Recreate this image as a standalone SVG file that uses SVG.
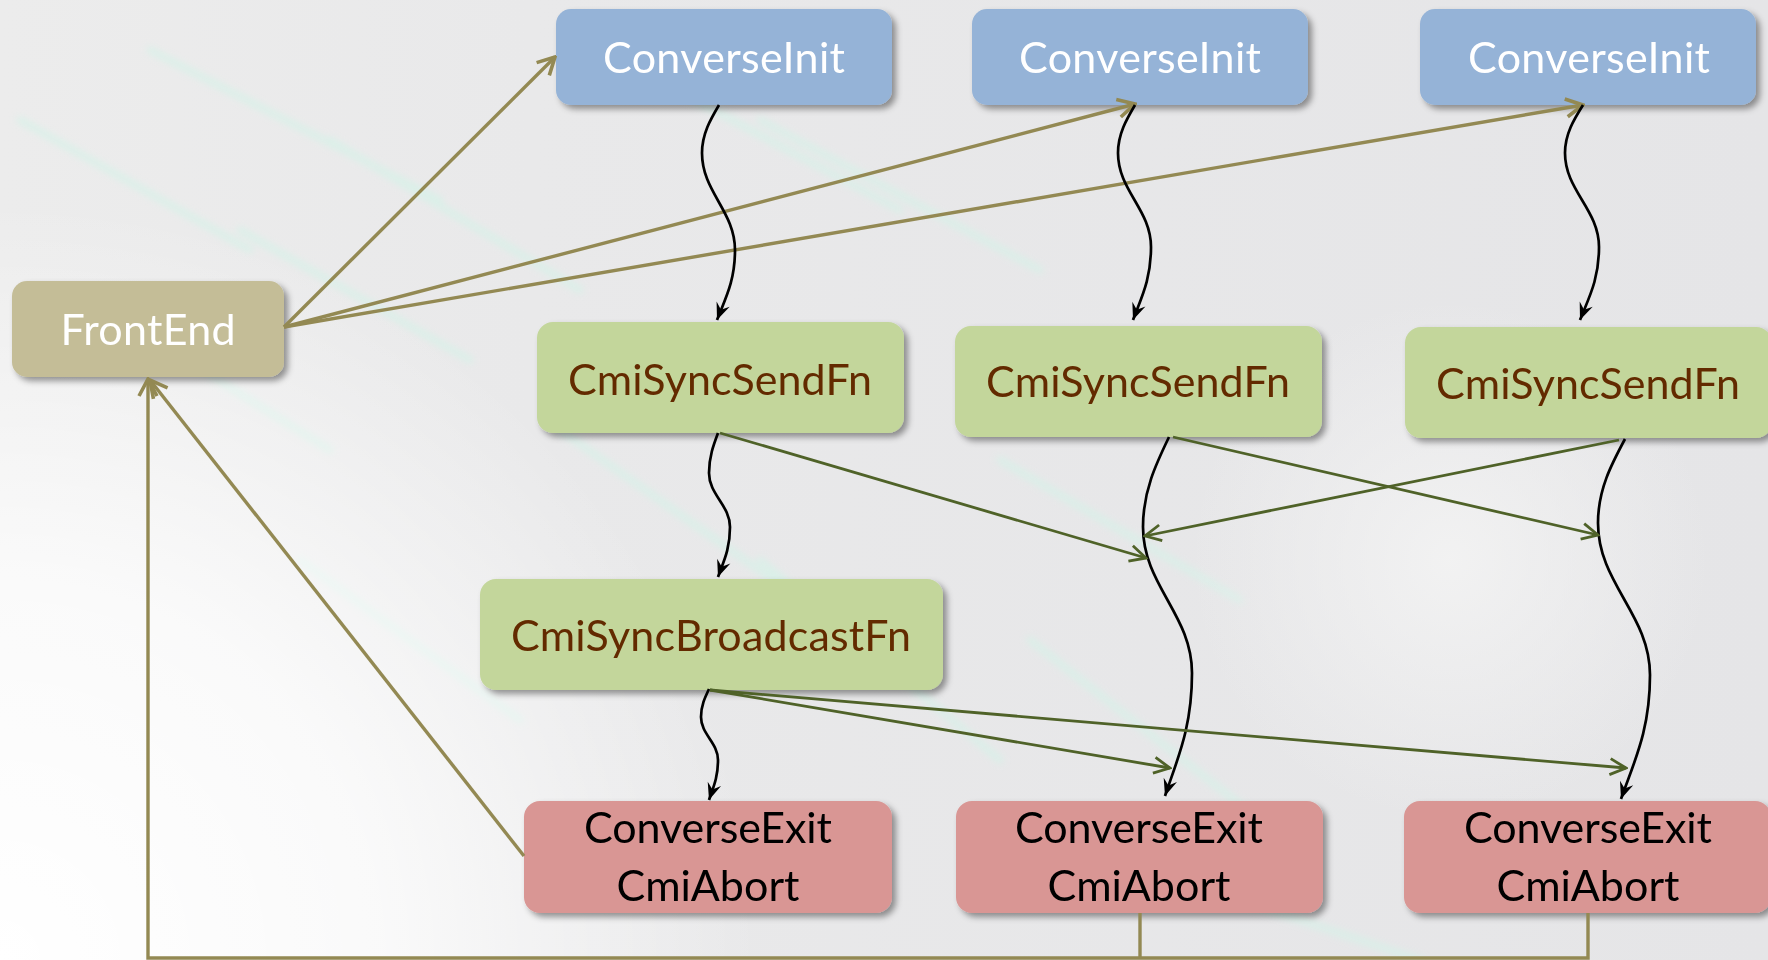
<svg xmlns="http://www.w3.org/2000/svg" width="1768" height="960" viewBox="0 0 1768 960">
  <defs>
    <linearGradient id="bg" x1="0" y1="0" x2="1" y2="0">
      <stop offset="0" stop-color="#ececec"/>
      <stop offset="0.3" stop-color="#e9e9ea"/>
      <stop offset="1" stop-color="#e5e5e7"/>
    </linearGradient>
    <radialGradient id="glow" cx="0" cy="960" r="760" gradientUnits="userSpaceOnUse">
      <stop offset="0" stop-color="#ffffff" stop-opacity="1"/>
      <stop offset="0.5" stop-color="#ffffff" stop-opacity="0.75"/>
      <stop offset="1" stop-color="#ffffff" stop-opacity="0"/>
    </radialGradient>
    <radialGradient id="glow2" cx="1450" cy="560" r="260" gradientUnits="userSpaceOnUse">
      <stop offset="0" stop-color="#f3f3f3" stop-opacity="0.9"/>
      <stop offset="1" stop-color="#f3f3f3" stop-opacity="0"/>
    </radialGradient>
    <filter id="blur" x="-20%" y="-20%" width="140%" height="140%">
      <feGaussianBlur stdDeviation="3.5"/>
    </filter>
    <filter id="shadow" x="-10%" y="-10%" width="125%" height="135%">
      <feDropShadow dx="4" dy="4" stdDeviation="3" flood-color="#000" flood-opacity="0.4"/>
    </filter>
    <marker id="ah-black" markerUnits="userSpaceOnUse" markerWidth="20" markerHeight="18" viewBox="-18 -9 20 18" refX="0" refY="0" orient="auto">
      <path d="M0,0 L-17,-7 L-11,0 L-17,7 Z" fill="#000"/>
    </marker>
    <marker id="ah-green" markerUnits="userSpaceOnUse" markerWidth="22" markerHeight="20" viewBox="-20 -10 22 20" refX="0" refY="0" orient="auto">
      <path d="M-16,-8 L0,0 L-16,8" fill="none" stroke="#4f6228" stroke-width="2.8"/>
    </marker>
    <marker id="ah-olive" markerUnits="userSpaceOnUse" markerWidth="24" markerHeight="22" viewBox="-22 -11 24 22" refX="0" refY="0" orient="auto">
      <path d="M-17,-9 L0,0 L-17,9" fill="none" stroke="#938953" stroke-width="3.6"/>
    </marker>
    <style>
      .box { filter: url(#shadow); }
      .init rect { fill: #95b3d7; }
      .front rect { fill: #c4bd97; }
      .send rect { fill: #c3d69b; }
      .exit rect { fill: #d99694; }
      text { font-family: Lato, "Open Sans", "Liberation Sans", sans-serif; font-size: 43px; text-anchor: middle; }
      .init text, .front text { fill: #ffffff; }
      .send text { fill: #632c00; }
      .exit text { fill: #000000; }
      .wave { fill: none; stroke: #000; stroke-width: 2.7; marker-end: url(#ah-black); }
      .green { fill: none; stroke: #4f6228; stroke-width: 2.8; marker-end: url(#ah-green); }
      .olive { fill: none; stroke: #938953; stroke-width: 3.4; }
      .olive-arr { marker-end: url(#ah-olive); }
    </style>
  </defs>

  <!-- background -->
  <rect x="0" y="0" width="1768" height="960" fill="url(#bg)"/>
  <g filter="url(#blur)" stroke="#d6f2e8" stroke-width="7" stroke-linecap="round" opacity="0.75">
    <line x1="20" y1="120" x2="250" y2="250"/>
    <line x1="150" y1="50" x2="440" y2="200"/>
    <line x1="330" y1="140" x2="580" y2="290"/>
    <line x1="90" y1="300" x2="330" y2="450"/>
    <line x1="240" y1="230" x2="470" y2="360"/>
    <line x1="620" y1="60" x2="900" y2="210"/>
    <line x1="760" y1="120" x2="1040" y2="270"/>
    <line x1="560" y1="430" x2="830" y2="620"/>
    <line x1="760" y1="560" x2="1000" y2="760"/>
    <line x1="1000" y1="460" x2="1240" y2="600"/>
    <line x1="1030" y1="640" x2="1260" y2="820"/>
    <line x1="1180" y1="880" x2="1420" y2="960"/>
    <line x1="300" y1="560" x2="520" y2="720"/>
  </g>
  <rect x="0" y="0" width="1768" height="960" fill="url(#glow2)"/>
  <rect x="0" y="0" width="1768" height="960" fill="url(#glow)"/>

  <!-- nodes -->
  <g id="converseinit-1" class="box init">
    <rect x="556" y="9" width="336" height="96" rx="15"/>
    <text x="724" y="73" textLength="242">ConverseInit</text>
  </g>
  <g id="converseinit-2" class="box init">
    <rect x="972" y="9" width="336" height="96" rx="15"/>
    <text x="1140" y="73" textLength="242">ConverseInit</text>
  </g>
  <g id="converseinit-3" class="box init">
    <rect x="1420" y="9" width="336" height="96" rx="15"/>
    <text x="1589" y="73" textLength="242">ConverseInit</text>
  </g>
  <g id="frontend" class="box front">
    <rect x="12" y="281" width="272" height="96" rx="15"/>
    <text x="148" y="345" textLength="175">FrontEnd</text>
  </g>
  <g id="cmisyncsendfn-1" class="box send">
    <rect x="537" y="322" width="367" height="111" rx="16"/>
    <text x="720" y="395" textLength="304">CmiSyncSendFn</text>
  </g>
  <g id="cmisyncsendfn-2" class="box send">
    <rect x="955" y="326" width="367" height="111" rx="16"/>
    <text x="1138" y="397" textLength="304">CmiSyncSendFn</text>
  </g>
  <g id="cmisyncsendfn-3" class="box send">
    <rect x="1405" y="327" width="367" height="111" rx="16"/>
    <text x="1588" y="399" textLength="304">CmiSyncSendFn</text>
  </g>
  <g id="cmisyncbroadcastfn" class="box send">
    <rect x="480" y="579" width="463" height="111" rx="16"/>
    <text x="711" y="651" textLength="400">CmiSyncBroadcastFn</text>
  </g>
  <g id="converseexit-1" class="box exit">
    <rect x="524" y="801" width="368" height="112" rx="16"/>
    <text x="708" y="843" textLength="248">ConverseExit</text>
    <text x="708" y="901" textLength="183">CmiAbort</text>
  </g>
  <g id="converseexit-2" class="box exit">
    <rect x="956" y="801" width="367" height="112" rx="16"/>
    <text x="1139" y="843" textLength="248">ConverseExit</text>
    <text x="1139" y="901" textLength="183">CmiAbort</text>
  </g>
  <g id="converseexit-3" class="box exit">
    <rect x="1404" y="801" width="367" height="112" rx="16"/>
    <text x="1588" y="843" textLength="248">ConverseExit</text>
    <text x="1588" y="901" textLength="183">CmiAbort</text>
  </g>

  <!-- connectors -->
  <g id="connectors">
    <!-- olive: FrontEnd to ConverseInit -->
    <line class="olive olive-arr" x1="284" y1="327" x2="555" y2="57"/>
    <line class="olive olive-arr" x1="284" y1="327" x2="1135" y2="104"/>
    <line class="olive olive-arr" x1="284" y1="327" x2="1583" y2="105"/>
    <!-- olive: ConverseExit back to FrontEnd -->
    <line class="olive olive-arr" x1="524" y1="856" x2="150" y2="380"/>
    <path class="olive" d="M1140,913 V958"/>
    <path class="olive olive-arr" d="M1588,913 V958 H148 V379"/>

    <!-- black wavy -->
    <path class="wave" d="M719,105 C710.5,119.4 702,133.8 702,153 C702,191.8 735,211.2 735,250 C735,281.5 725.1,299 717,320"/>
    <path class="wave" d="M1135,105 C1126.5,119.4 1118,133.8 1118,153 C1118,190.6 1151,209.4 1151,247 C1151,279.9 1141.1,298.1 1133,320"/>
    <path class="wave" d="M1583,105 C1574,119.4 1565,133.8 1565,153 C1565,190.6 1599,209.4 1599,247 C1599,279.9 1588.6,298.1 1580,320"/>
    <path class="wave" d="M718,433 C713.5,445 709,457 709,473 C709,494.6 730,505.4 730,527 C730,549.5 723.4,562 718,577"/>
    <path class="wave" d="M709,689 C705,697.4 701,705.8 701,717 C701,734.2 718,742.8 718,760 C718,778 713,788 709,800"/>
    <path class="wave" d="M1169,437 C1156,464 1143,491 1143,527 C1143,585.4 1192,614.6 1192,673 C1192,728.4 1177.2,759.1 1165,796"/>
    <path class="wave" d="M1625,439 C1611.5,464.2 1598,489.4 1598,523 C1598,583.8 1650,614.2 1650,675 C1650,730.8 1634,761.8 1621,799"/>

    <!-- green -->
    <line class="green" x1="720" y1="433" x2="1146" y2="558"/>
    <line class="green" x1="1173" y1="437" x2="1598" y2="535"/>
    <line class="green" x1="1619" y1="440" x2="1145" y2="536"/>
    <line class="green" x1="710" y1="690" x2="1170" y2="768"/>
    <line class="green" x1="710" y1="690" x2="1626" y2="768"/>
  </g>
</svg>
